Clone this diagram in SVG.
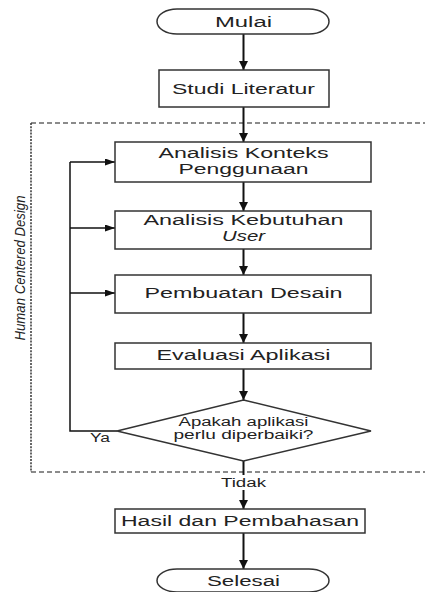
<svg xmlns="http://www.w3.org/2000/svg" width="425" height="592" viewBox="0 0 425 592">
<style>
.box{fill:#fff;stroke:#333;stroke-width:1.5}
.t{font-family:"Liberation Sans",Arial,sans-serif;font-size:14px;fill:#222;text-anchor:middle}
.s{font-size:12.5px}
.ln{fill:none;stroke:#111;stroke-width:2}
.fb{fill:none;stroke:#111;stroke-width:1.5}
</style>
<defs>
<marker id="ah" viewBox="0 0 10 10" refX="10" refY="5" markerWidth="9" markerHeight="9" markerUnits="userSpaceOnUse" orient="auto">
<path d="M0,0 L10,5 L0,10 z" fill="#111"/>
</marker>
<marker id="ah2" viewBox="0 0 10 10" refX="10" refY="5" markerWidth="10" markerHeight="7" markerUnits="userSpaceOnUse" orient="auto" preserveAspectRatio="none">
<path d="M0,0 L10,5 L0,10 z" fill="#111"/>
</marker>
</defs>
<rect width="425" height="592" fill="#fff"/>

<g id="hcd-frame">
<path d="M31,123 H425 M31,472 H425" fill="none" stroke="#666" stroke-width="1.3" stroke-dasharray="5,3"/>
<path d="M31,123 V472" fill="none" stroke="#333" stroke-width="1.5" stroke-dasharray="2,1.2"/>
<text class="t" font-style="italic" font-size="16" transform="translate(25,268) rotate(-90)" textLength="145" lengthAdjust="spacingAndGlyphs">Human Centered Design</text>
</g>

<g id="connectors">
<path class="ln" d="M243.5,34 V70" marker-end="url(#ah)"/>
<path class="ln" d="M243.5,107 V142" marker-end="url(#ah)"/>
<path class="ln" d="M243.5,182 V211" marker-end="url(#ah)"/>
<path class="ln" d="M243.5,249 V275" marker-end="url(#ah)"/>
<path class="ln" d="M243.5,313 V343" marker-end="url(#ah)"/>
<path class="ln" d="M243.5,369 V400" marker-end="url(#ah)"/>
<path class="ln" d="M243.5,461 V509" marker-end="url(#ah)"/>
<path class="ln" d="M243.5,533 V569" marker-end="url(#ah)"/>
<path class="fb" d="M117,431 H70 V162"/>
<path class="fb" d="M70,162 H115" marker-end="url(#ah2)"/>
<path class="fb" d="M70,228 H115" marker-end="url(#ah2)"/>
<path class="fb" d="M70,293 H115" marker-end="url(#ah2)"/>
<rect x="225" y="475" width="38" height="15" fill="#fff"/>
<text class="t s" x="243.5" y="487" textLength="45" lengthAdjust="spacingAndGlyphs">Tidak</text>
<text class="t s" x="100" y="442" textLength="20" lengthAdjust="spacingAndGlyphs">Ya</text>
</g>

<g id="mulai">
<rect class="box" x="157" y="9" width="172" height="25" rx="20" ry="12.5"/>
<text class="t" x="243.5" y="27" font-size="15" textLength="57" lengthAdjust="spacingAndGlyphs">Mulai</text>
</g>
<g id="studi">
<rect class="box" x="159" y="70" width="170" height="37"/>
<text class="t" x="243.5" y="94" font-size="15" textLength="143" lengthAdjust="spacingAndGlyphs">Studi Literatur</text>
</g>
<g id="konteks">
<rect class="box" x="115" y="142" width="256" height="40"/>
<text class="t" x="243.5" y="158" textLength="170" lengthAdjust="spacingAndGlyphs">Analisis Konteks</text>
<text class="t" x="243.5" y="174" textLength="130" lengthAdjust="spacingAndGlyphs">Penggunaan</text>
</g>
<g id="kebutuhan">
<rect class="box" x="115" y="211" width="256" height="38"/>
<text class="t" x="243.5" y="225" textLength="200" lengthAdjust="spacingAndGlyphs">Analisis Kebutuhan</text>
<text class="t" x="243.5" y="241" font-style="italic" textLength="43" lengthAdjust="spacingAndGlyphs">User</text>
</g>
<g id="pembuatan">
<rect class="box" x="115" y="275" width="256" height="38"/>
<text class="t" x="243.5" y="298" textLength="198" lengthAdjust="spacingAndGlyphs">Pembuatan Desain</text>
</g>
<g id="evaluasi">
<rect class="box" x="115" y="343" width="256" height="26"/>
<text class="t" x="243.5" y="360" textLength="174" lengthAdjust="spacingAndGlyphs">Evaluasi Aplikasi</text>
</g>
<g id="keputusan">
<path class="box" d="M243.5,400 L371,431 L243.5,461 L117,431 Z"/>
<text class="t s" x="243.5" y="426" textLength="130" lengthAdjust="spacingAndGlyphs">Apakah aplikasi</text>
<text class="t s" x="243.5" y="439" textLength="140" lengthAdjust="spacingAndGlyphs">perlu diperbaiki?</text>
</g>
<g id="hasil">
<rect class="box" x="115" y="509" width="250" height="24"/>
<text class="t" x="240" y="526" textLength="238" lengthAdjust="spacingAndGlyphs">Hasil dan Pembahasan</text>
</g>
<g id="selesai">
<rect class="box" x="157" y="569" width="172" height="23" rx="20" ry="11.5"/>
<text class="t" x="243.5" y="586" font-size="15" textLength="73" lengthAdjust="spacingAndGlyphs">Selesai</text>
</g>
</svg>
